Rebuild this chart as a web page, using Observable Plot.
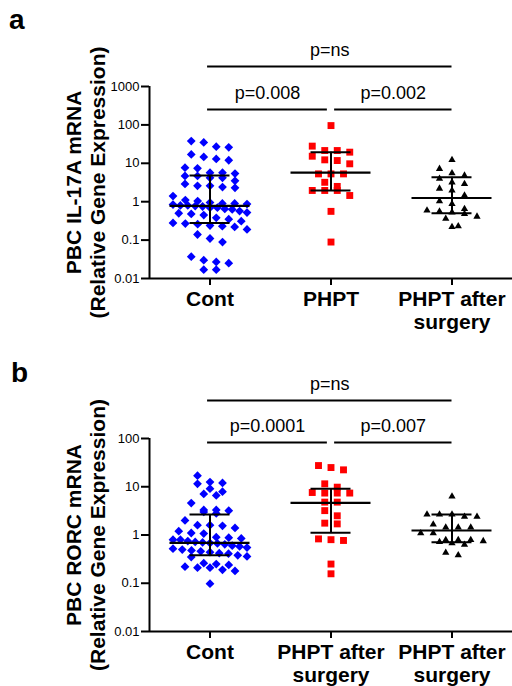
<!DOCTYPE html>
<html><head><meta charset="utf-8">
<script src="https://cdn.jsdelivr.net/npm/d3@7"></script>
<script src="https://cdn.jsdelivr.net/npm/@observablehq/plot@0.6"></script>
<style>
body{margin:0;background:#fff;font-family:"Liberation Sans",Arial,sans-serif;}
.panel{position:relative;width:512px;}
.panel svg{display:block;}
.tag{position:absolute;font-weight:bold;font-size:28px;line-height:1;color:#000;}
svg [aria-label^="y-axis"] line, svg [aria-label^="y-axis"] path,
svg [aria-label^="x-axis"] line, svg [aria-label^="x-axis"] path{stroke-width:2px;stroke:#000;}
</style></head>
<body>
<div id="pa" class="panel"><div class="tag" style="left:9px;top:6px">a</div></div>
<div id="pb" class="panel"><div class="tag" style="left:11px;top:19px">b</div></div>
<script>
// ---- data ----
const aCategories = ["Cont", "PHPT", "PHPT after\nsurgery"];
const bCategories = ["Cont", "PHPT after\nsurgery", "PHPT after\nsurgery"];
const aTitle = "PBC IL-17A mRNA\n(Relative Gene Expression)";
const bTitle = "PBC RORC mRNA\n(Relative Gene Expression)";

const aCont = [38, 27, 26, 35, 14.7, 12, 13, 17, 7.4, 5.7, 7.7, 4.7, 4.2, 5.4, 5.7, 4.2, 4.7, 3.5, 2.9, 2.6, 2.3, 2.4, 2.6, 1.4, 1.04, 1.1, 0.9, 0.87, 0.8, 0.77, 0.75, 0.7, 0.7, 0.8, 0.84, 0.9, 0.95, 0.65, 0.57, 0.52, 0.63, 0.5, 0.45, 0.48, 0.35, 0.28, 0.24, 0.23, 0.22, 0.26, 0.27, 0.31, 0.38, 0.19, 0.14, 0.089, 0.11, 0.03, 0.025, 0.037, 0.017, 0.017, 0.027];
const aPHPT = [96, 28, 19.5, 21.5, 21.5, 15.3, 12.3, 11.8, 9.7, 5.3, 5.3, 5.3, 3.2, 2.5, 1.96, 1.96, 1.96, 1.45, 0.56, 0.089];
const aPost = [12.3, 7.2, 5.5, 4.8, 4.0, 3.2, 2.9, 2.2, 1.96, 1.45, 1.03, 0.88, 0.65, 0.56, 0.53, 0.48, 0.59, 0.41, 0.36, 0.23, 0.22];
const aMedian = [0.78, 5.7, 1.25];
const aLower = [0.28, 1.96, 0.5];
const aUpper = [4.8, 19.5, 4.35];
const aPText = ["p=ns", "p=0.008", "p=0.002"];
const aPairs = [[0, 2], [0, 1], [1, 2]];
const aTicks = [0.01, 0.1, 1, 10, 100, 1000];
const aTickLabels = ["0.01", "0.1", "1", "10", "100", "1000"];

const bCont = [17, 12, 12.5, 11.5, 9.1, 7.1, 7.9, 6.6, 4.6, 3.3, 3.0, 3.3, 3.2, 2.8, 2.0, 1.6, 1.4, 1.6, 1.55, 1.1, 1.07, 1.2, 0.9, 0.85, 0.8, 0.75, 0.72, 0.7, 0.68, 0.67, 0.8, 0.88, 0.64, 0.6, 0.58, 0.55, 0.52, 0.5, 0.48, 0.46, 0.44, 0.42, 0.41, 0.38, 0.36, 0.35, 0.25, 0.22, 0.21, 0.19, 0.18, 0.21, 0.24, 0.26, 0.098];
const bPHPT = [25, 22.4, 27.5, 9.8, 11.5, 7.4, 7.4, 7.4, 7.6, 4.8, 4.8, 3.2, 2.5, 1.76, 1.7, 0.83, 0.77, 0.8, 0.25, 0.157];
const bPost = [6.3, 2.66, 2.66, 2.4, 2.4, 2.66, 1.43, 1.43, 1.43, 1.65, 1.09, 1.09, 0.79, 0.75, 0.68, 0.72, 0.79, 0.79, 0.63, 0.38, 0.43];
const bMedian = [0.69, 4.65, 1.24];
const bLower = [0.38, 1.11, 0.71];
const bUpper = [2.66, 9.1, 2.66];
const bPText = ["p=ns", "p=0.0001", "p=0.007"];
const bPairs = [[0, 2], [0, 1], [1, 2]];
const bTicks = [0.01, 0.1, 1, 10, 100];
const bTickLabels = ["0.01", "0.1", "1", "10", "100"];

// ---- symbols ----
const rotSquare = {draw(ctx, size) { const h = Math.sqrt(size / 2); ctx.moveTo(0, -h); ctx.lineTo(h, 0); ctx.lineTo(0, h); ctx.lineTo(-h, 0); ctx.closePath(); }};
const groupStyle = [
  {symbol: rotSquare, fill: "#0000ff", r: 3.5},
  {symbol: "square", fill: "#ff0000", r: 3.9},
  {symbol: "triangle", fill: "#000000", r: 2.7}
];

// GraphPad-like scatter: points binned into rows (by pixel y), each row spread symmetrically
function rows(values, yS, rowH, step, maxHalf) {
  const pts = values.map(v => ({v, py: yS.apply(v)})).sort((a, b) => a.py - b.py);
  const out = [];
  let row = [];
  const flush = () => {
    const n = row.length;
    if (!n) return;
    const s = n > 1 ? Math.min(step, 2 * maxHalf / (n - 1)) : 0;
    row.forEach((p, i) => { p.px = (i - (n - 1) / 2) * s; out.push(p); });
    row = [];
  };
  for (const p of pts) {
    if (row.length && p.py - row[0].py >= rowH) flush();
    row.push(p);
  }
  flush();
  return out;
}

function panel({groups, medians, lowers, uppers, cats, title, ticks, tickLabels, pTexts, pairs, height, marginTop, marginBottom, outerOff, innerOff}) {
  const W = 512, mL = 149, mR = 0;
  const yDom = [ticks[0], ticks[ticks.length - 1]];
  const yRange = [height - marginBottom, marginTop];
  const yS = Plot.scale({y: {type: "log", domain: yDom, range: yRange}});
  const xS = Plot.scale({x: {type: "linear", domain: [0, 3], range: [mL, W - mR]}});
  const pxPerUnit = xS.apply(1) - xS.apply(0);
  const pts = [];
  groups.forEach((vals, g) => {
    rows(vals, yS, 8, 12.5, 37).forEach(p => pts.push({g, v: p.v, x: g + 0.5 + p.px / pxPerUnit}));
  });
  const stats = medians.map((m, g) => ({g: g + 0.5, m, lo: lowers[g], hi: uppers[g]}));
  const half = 40 / pxPerUnit, cap = 20 / pxPerUnit;
  const outerY = yS.invert(marginTop + outerOff), innerY = yS.invert(marginTop + innerOff);
  const brackets = pairs.map(([a, b], i) => ({
    x1: a + 0.5 - 0.02 + (a > 0 ? 0.05 : 0),
    x2: b + 0.5 - (b < 2 ? 0.03 : 0),
    y: (b - a === 2) ? outerY : innerY,
    text: pTexts[i]
  }));
  const labelMap = new Map(ticks.map((t, i) => [t, tickLabels[i]]));
  const catData = cats.map((c, i) => ({x: i + 0.5, c}));
  const marks = [];
  groupStyle.forEach((s, g) => {
    marks.push(Plot.dot(pts.filter(p => p.g === g), {x: "x", y: "v", symbol: s.symbol, fill: s.fill, r: s.r, stroke: "none"}));
  });
  marks.push(
    Plot.ruleX(stats, {x: "g", y1: "lo", y2: "hi", stroke: "#000", strokeWidth: 2}),
    Plot.ruleY(stats, {y: "m", x1: d => d.g - half, x2: d => d.g + half, stroke: "#000", strokeWidth: 2.2}),
    Plot.ruleY(stats, {y: "lo", x1: d => d.g - cap, x2: d => d.g + cap, stroke: "#000", strokeWidth: 2}),
    Plot.ruleY(stats, {y: "hi", x1: d => d.g - cap, x2: d => d.g + cap, stroke: "#000", strokeWidth: 2}),
    Plot.ruleX([0], {y1: yDom[0], y2: yDom[1], stroke: "#000", strokeWidth: 2}),
    Plot.ruleY([yDom[0]], {x1: 0, x2: 3, stroke: "#000", strokeWidth: 2}),
    Plot.ruleY(brackets, {y: "y", x1: "x1", x2: "x2", stroke: "#000", strokeWidth: 1.8}),
    Plot.text(brackets, {x: d => (d.x1 + d.x2) / 2, y: "y", text: "text", dy: -16.5, fontSize: 18, fill: "#000"}),
    Plot.text(catData, {x: "x", text: "c", frameAnchor: "bottom", dy: 11, lineAnchor: "top", lineHeight: 1.1, fontSize: 21, fontWeight: "bold", fill: "#000"}),
    Plot.text([title], {text: d => d, frameAnchor: "left", textAnchor: "middle", lineAnchor: "middle", rotate: -90, dx: -64.5, lineHeight: 1.19, fontSize: 21, fontWeight: "bold", fill: "#000"})
  );
  return Plot.plot({
    width: W, height, marginLeft: mL, marginRight: mR, marginTop, marginBottom,
    style: {fontFamily: "Liberation Sans, Arial, sans-serif", fontSize: "13px", color: "#000", background: "#fff", overflow: "visible"},
    x: {domain: [0, 3], ticks: [0.5, 1.5, 2.5], tickFormat: () => "", tickSize: 7, label: null},
    y: {type: "log", domain: yDom, range: yRange, ticks, tickFormat: d => labelMap.get(d) ?? "", tickSize: 8, tickPadding: 2, label: null},
    marks
  });
}

document.getElementById("pa").appendChild(panel({
  groups: [aCont, aPHPT, aPost], medians: aMedian, lowers: aLower, uppers: aUpper,
  cats: aCategories, title: aTitle, ticks: aTicks, tickLabels: aTickLabels,
  pTexts: aPText, pairs: aPairs, height: 340, marginTop: 86, marginBottom: 62, outerOff: -20, innerOff: 23
}));
document.getElementById("pb").appendChild(panel({
  groups: [bCont, bPHPT, bPost], medians: bMedian, lowers: bLower, uppers: bUpper,
  cats: bCategories, title: bTitle, ticks: bTicks, tickLabels: bTickLabels,
  pTexts: bPText, pairs: bPairs, height: 346, marginTop: 98, marginBottom: 55, outerOff: -38, innerOff: 4
}));
</script>
</body></html>
